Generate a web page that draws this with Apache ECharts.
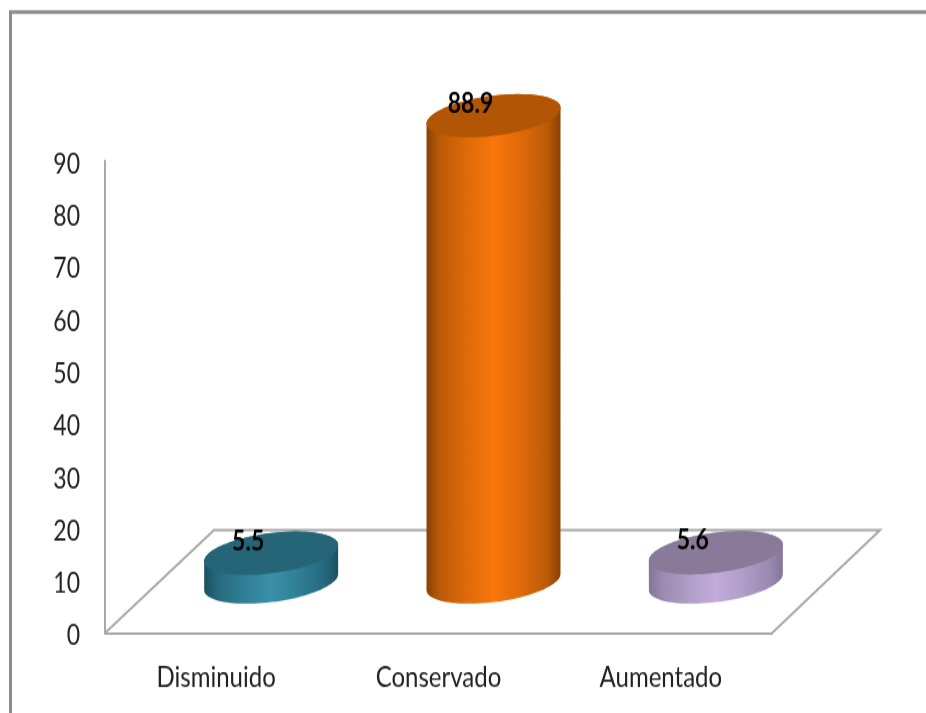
<!DOCTYPE html>
<html><head><meta charset="utf-8">
<style>html,body{margin:0;padding:0;background:#fff;overflow:hidden;width:926px;height:713px}
#c{width:926px;height:575px;transform:scaleY(1.24);transform-origin:0 0}</style>
<script src="https://cdn.jsdelivr.net/npm/echarts@6/dist/echarts.min.js"></script>
</head><body><div id="c"></div>
<script>
const categories = ['Disminuido', 'Conservado', 'Aumentado'];
const values = [5.5, 88.9, 5.6];
const axisMax = 90;
const axisStep = 10;
const sideEdge = ['#1c5060', '#8a4004', '#84759a'];
const sideNear = ['#26697d', '#bb5b08', '#9a8ab0'];
const sideShade = ['#307f97', '#e06a0a', '#b09dc8'];
const sideMid = ['#3a90a9', '#f8760c', '#c2acda'];
const topFill = ['#266578', '#b25606', '#887a98'];
const FONT = 'Lato,"Open Sans",sans-serif';
const GREY = '#a8a8a8';
const S = 1.24; // the page is stretched vertically by this factor, as the reference image is

function ellipsePts(cx, cy, a, b, phi, t0, t1, n) {
  const p = [];
  for (let i = 0; i <= n; i++) {
    const t = t0 + (t1 - t0) * i / n;
    p.push([cx + a * Math.cos(t) * Math.cos(phi) - b * Math.sin(t) * Math.sin(phi),
            cy + (a * Math.cos(t) * Math.sin(phi) + b * Math.sin(t) * Math.cos(phi)) / S]);
  }
  return p;
}

function renderCylinder(params, api) {
  const idx = api.value(0), val = api.value(1);
  const base = api.coord([idx, 0]), top = api.coord([idx, val]);
  const dx = 55, dy = -51 / S, a = 67.5, b = 20, phi = -7.5 * Math.PI / 180;
  const t0 = Math.atan2(-b * Math.tan(phi), a);
  const bx = base[0] + dx, by = base[1] + dy, ty = top[1] + dy;
  const side = ellipsePts(bx, by, a, b, phi, t0, t0 + Math.PI, 48)
    .concat(ellipsePts(bx, ty, a, b, phi, t0 + Math.PI, t0 + 2 * Math.PI, 48));
  const cap = ellipsePts(bx, ty, a, b, phi, 0, 2 * Math.PI, 96);
  return {
    type: 'group',
    children: [
      { type: 'polygon', shape: { points: side }, style: {
          fill: new echarts.graphic.LinearGradient(0, 0, 1, 0, [
            { offset: 0, color: sideEdge[idx] },
            { offset: 0.1, color: sideNear[idx] },
            { offset: 0.3, color: sideShade[idx] },
            { offset: 0.5, color: sideMid[idx] },
            { offset: 0.7, color: sideShade[idx] },
            { offset: 0.9, color: sideNear[idx] },
            { offset: 1, color: sideEdge[idx] }
          ]) } },
      { type: 'polygon', shape: { points: cap }, style: { fill: topFill[idx] } },
      { type: 'text', style: {
          x: bx - 23, y: ty - 12 / S, text: val.toFixed(1), fill: '#000',
          font: 'bold 23px ' + FONT, align: 'center', verticalAlign: 'middle' } }
    ]
  };
}

const chart = echarts.init(document.getElementById('c'), null, { renderer: 'canvas' });
chart.setOption({
  animation: false,
  backgroundColor: '#fff',
  grid: { left: 105, top: 161 / S, width: 667, height: 472 / S },
  xAxis: {
    type: 'category', data: categories,
    axisLine: { lineStyle: { color: GREY, width: 2 } },
    axisTick: { show: false },
    axisLabel: { color: '#222', fontFamily: FONT, fontSize: 24, margin: 24 }
  },
  yAxis: {
    type: 'value', min: 0, max: axisMax, interval: axisStep,
    axisLine: { show: true, lineStyle: { color: GREY, width: 2 } },
    axisTick: { show: false },
    splitLine: { show: false },
    axisLabel: {
      margin: 25, formatter: '{a|{value}}',
      rich: { a: { color: '#222', fontFamily: FONT, fontSize: 23, padding: [5, 0, 0, 0] } }
    }
  },
  graphic: [
    { type: 'polyline', z: 0, shape: { points: [[105, 633 / S], [214, 530 / S], [880, 530 / S], [772, 633 / S]] },
      style: { stroke: GREY, lineWidth: 2, fill: '#fff' } },
    { type: 'polyline', z: 0, shape: { points: [[10.5, 713 / S], [10.5, 12 / S], [926, 12 / S]] },
      style: { stroke: '#8c8c8c', lineWidth: 3, fill: 'none' } }
  ],
  series: [{
    type: 'custom', renderItem: renderCylinder, z: 5, clip: false,
    encode: { x: 0, y: 1 },
    data: values.map((v, i) => [i, v])
  }]
});
</script></body></html>
